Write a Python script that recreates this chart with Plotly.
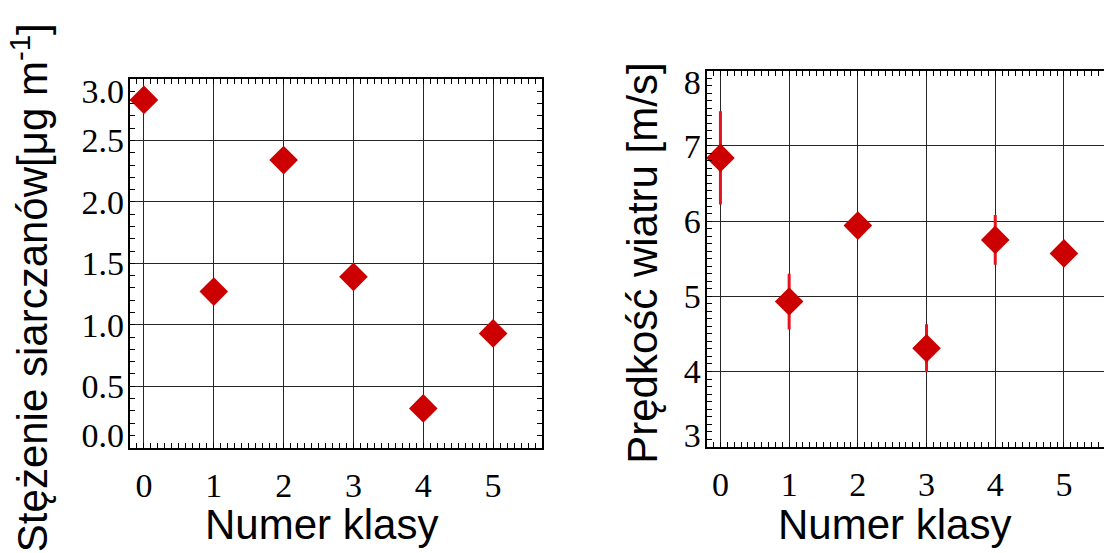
import plotly.graph_objects as go

# ---- data ----
klasy = [0, 1, 2, 3, 4, 5]
siarczany = [2.83, 1.27, 2.34, 1.39, 0.32, 0.93]
wiatr = [6.84, 4.93, 5.94, 4.31, 5.75, 5.57]
wiatr_err = [0.62, 0.37, 0.12, 0.32, 0.33, 0.15]

x_tickvals = [0, 1, 2, 3, 4, 5]
x_ticktext = ["0", "1", "2", "3", "4", "5"]
left_y_grid = [0, 0.5, 1.0, 1.5, 2.0, 2.5, 3.0]
left_y_labelpos = [0.1, 0.5, 1.0, 1.5, 2.0, 2.5, 2.9]
left_y_labels = ["0.0", "0.5", "1.0", "1.5", "2.0", "2.5", "3.0"]
right_y_grid = [3, 4, 5, 6, 7, 8]
right_y_labelpos = [3.15, 4, 5, 6, 7, 7.85]
right_y_labels = ["3", "4", "5", "6", "7", "8"]

W, H = 1104, 553
MARK = "#cc0000"
ERR = "#e3141b"
GRID = "#262626"
SERIF = "Liberation Serif"
SANS = "Liberation Sans"

fig = go.Figure()
fig.add_trace(go.Scatter(x=klasy, y=siarczany, mode="markers", xaxis="x", yaxis="y",
                         marker=dict(symbol="diamond", size=22, color=MARK, line=dict(width=0)),
                         showlegend=False, hoverinfo="skip"))
fig.add_trace(go.Scatter(x=klasy, y=wiatr, mode="markers", xaxis="x2", yaxis="y2",
                         marker=dict(symbol="diamond", size=22, color=MARK, line=dict(width=0)),
                         error_y=dict(type="data", array=wiatr_err, color=ERR, thickness=3, width=0),
                         showlegend=False, hoverinfo="skip"))
# dummy traces for label-only overlay axes
fig.add_trace(go.Scatter(x=[None], y=[None], xaxis="x", yaxis="y3", showlegend=False, hoverinfo="skip"))
fig.add_trace(go.Scatter(x=[None], y=[None], xaxis="x2", yaxis="y4", showlegend=False, hoverinfo="skip"))

minor = dict(dtick=0.1, ticks="inside", ticklen=5, tickcolor="black", tickwidth=1, showgrid=False)
common = dict(showline=True, linecolor="black", linewidth=2, showgrid=True, gridcolor=GRID,
              gridwidth=1.4, zeroline=False, ticks="inside", ticklen=5, tickcolor="black",
              tickwidth=1, minor=minor, fixedrange=True)
tickfont = dict(family=SERIF, size=34, color="black")

fig.update_layout(
    width=W, height=H, margin=dict(l=0, r=0, t=0, b=0, pad=0),
    paper_bgcolor="white", plot_bgcolor="white",
    xaxis=dict(domain=[130 / W, 542 / W], range=[-0.2, 5.7], anchor="y", mirror="ticks",
               tickmode="array", tickvals=x_tickvals, ticktext=x_ticktext,
               tickfont=tickfont, ticklabelstandoff=6, **common),
    yaxis=dict(domain=[1 - 453 / H, 1 - 74 / H], range=[0, 3], anchor="x", mirror="ticks",
               tickmode="array", tickvals=left_y_grid, showticklabels=False, **common),
    yaxis3=dict(overlaying="y", anchor="x", side="left", range=[0, 3], showgrid=False,
                zeroline=False, showline=False, ticks="", tickmode="array",
                tickvals=left_y_labelpos, ticktext=left_y_labels, tickfont=tickfont,
                ticklabelstandoff=5, fixedrange=True),
    xaxis2=dict(domain=[706.7 / W, 1.0], range=[-0.2, -0.2 + (W - 706.7) / 68.7], anchor="y2",
                mirror="ticks", tickmode="array", tickvals=x_tickvals, ticktext=x_ticktext,
                tickfont=tickfont, ticklabelstandoff=6, **common),
    yaxis2=dict(domain=[1 - 452 / H, 1 - 65.4 / H], range=[3, 8], anchor="x2", mirror=False,
                tickmode="array", tickvals=right_y_grid, showticklabels=False, **common),
    yaxis4=dict(overlaying="y2", anchor="x2", side="left", range=[3, 8], showgrid=False,
                zeroline=False, showline=False, ticks="", tickmode="array",
                tickvals=right_y_labelpos, ticktext=right_y_labels, tickfont=tickfont,
                ticklabelstandoff=5, fixedrange=True),
)

tfont = dict(family=SANS, size=42, color="black")
fig.add_annotation(text="Numer klasy", x=321 / W, y=1 - 532 / H, xref="paper", yref="paper",
                   xanchor="center", yanchor="middle", showarrow=False, font=tfont)
fig.add_annotation(text="Numer klasy", x=894 / W, y=1 - 532 / H, xref="paper", yref="paper",
                   xanchor="center", yanchor="middle", showarrow=False, font=tfont)
fig.add_annotation(text="Stężenie siarczanów[μg m<sup>-1</sup>]", x=30 / W, y=1 - 289 / H,
                   xref="paper", yref="paper", xanchor="center", yanchor="middle",
                   textangle=-90, showarrow=False, font=tfont)
fig.add_annotation(text="Prędkość wiatru [m/s]", x=643 / W, y=1 - 264 / H,
                   xref="paper", yref="paper", xanchor="center", yanchor="middle",
                   textangle=-90, showarrow=False, font=tfont)

fig.write_html("out.html")
